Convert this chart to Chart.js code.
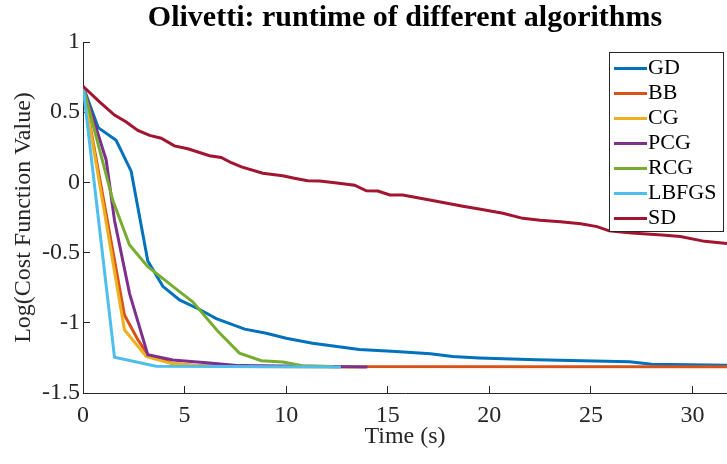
<!DOCTYPE html>
<html>
<head>
<meta charset="utf-8">
<script src="https://cdn.jsdelivr.net/npm/chart.js@4"></script>
<style>
  html, body { margin: 0; padding: 0; background: #fff; }
  canvas { display: block; }
</style>
</head>
<body>
<canvas id="runtimeChart" width="727" height="464"></canvas>
<script>
// Olivetti runtime data (time in seconds, log cost function value)
const gdTime = [0, 0.75, 1.63, 2.37, 3.19, 3.93, 4.75, 5.74, 6.56, 7.96, 9.02, 10.0, 11.3, 13.6, 15.4, 17.1, 18.2, 19.5, 22.3, 26.9, 28.0, 31.7];
const gdValue = [0.685, 0.39, 0.30, 0.08, -0.56, -0.74, -0.837, -0.905, -0.97, -1.045, -1.075, -1.11, -1.145, -1.19, -1.205, -1.22, -1.24, -1.25, -1.264, -1.277, -1.295, -1.303];

const bbTime = [0, 2.04, 2.7, 3.19, 4.4, 5.7, 7.5, 31.7];
const bbValue = [0.685, -0.944, -1.12, -1.228, -1.29, -1.305, -1.312, -1.313];

const cgTime = [0, 2.04, 3.11, 4.26, 5.5, 7.0, 13.9];
const cgValue = [0.685, -1.05, -1.24, -1.287, -1.305, -1.312, -1.315];

const pcgTime = [0, 1.14, 1.55, 2.29, 3.19, 4.42, 6.23, 7.7, 14.0];
const pcgValue = [0.685, 0.16, -0.27, -0.79, -1.228, -1.265, -1.287, -1.305, -1.314];

const rcgTime = [0, 1.47, 2.29, 3.19, 4.75, 5.4, 6.64, 7.7, 8.78, 9.84, 10.8, 12.3];
const rcgValue = [0.685, -0.13, -0.446, -0.6, -0.778, -0.85, -1.06, -1.216, -1.27, -1.28, -1.306, -1.312];

const lbfgsTime = [0, 1.55, 3.6, 12.7];
const lbfgsValue = [0.685, -1.245, -1.31, -1.315];

const sdTime = [0, 0.8, 1.55, 2.13, 2.7, 3.28, 3.85, 4.5, 5.16, 6.23, 6.8, 7.3, 7.8, 8.85, 9.83, 10.4, 11.06, 11.65, 12.5, 13.37, 13.95, 14.52, 15.1, 15.74, 17.07, 18.7, 19.5, 20.67, 21.65, 22.5, 23.5, 24.5, 25.3, 25.9, 27.0, 28.5, 29.4, 30.6, 31.7];
const sdValue = [0.685, 0.575, 0.48, 0.43, 0.37, 0.335, 0.315, 0.26, 0.24, 0.19, 0.178, 0.14, 0.11, 0.065, 0.047, 0.03, 0.012, 0.01, -0.005, -0.02, -0.06, -0.062, -0.09, -0.09, -0.126, -0.17, -0.19, -0.22, -0.256, -0.27, -0.28, -0.295, -0.315, -0.345, -0.36, -0.375, -0.385, -0.42, -0.435];

const seriesNames = ['GD', 'BB', 'CG', 'PCG', 'RCG', 'LBFGS', 'SD'];
const seriesTimes = [gdTime, bbTime, cgTime, pcgTime, rcgTime, lbfgsTime, sdTime];
const seriesValues = [gdValue, bbValue, cgValue, pcgValue, rcgValue, lbfgsValue, sdValue];
const seriesColors = ['#0072BD', '#D95319', '#EDB120', '#7E2F8E', '#77AC30', '#4DBEEE', '#A2142F'];

const xTicks = [0, 5, 10, 15, 20, 25, 30];
const xTickLabels = ['0', '5', '10', '15', '20', '25', '30'];
const yTicks = [-1.5, -1, -0.5, 0, 0.5, 1];
const yTickLabels = ['-1.5', '-1', '-0.5', '0', '0.5', '1'];

const serif = '"Liberation Serif", "Times New Roman", Times, serif';
const axisColor = '#262626';

// legend drawn inside the plot, MATLAB style
const boxLegend = {
  id: 'boxLegend',
  afterDatasetsDraw(chart) {
    const ctx = chart.ctx;
    const x = 609, y = 52, w = 114, h = 179, rowH = 25;
    ctx.save();
    ctx.fillStyle = '#fff';
    ctx.fillRect(x, y, w, h);
    ctx.strokeStyle = axisColor;
    ctx.lineWidth = 1;
    ctx.strokeRect(x + 0.5, y + 0.5, w, h);
    ctx.font = '22px ' + serif;
    ctx.textBaseline = 'middle';
    chart.data.datasets.forEach((ds, i) => {
      const cy = y + 16.5 + i * rowH;
      ctx.strokeStyle = ds.borderColor;
      ctx.lineWidth = 3;
      ctx.beginPath();
      ctx.moveTo(x + 5, cy);
      ctx.lineTo(x + 38, cy);
      ctx.stroke();
      ctx.fillStyle = '#000';
      ctx.fillText(ds.label, x + 39, cy);
    });
    ctx.restore();
  }
};

const datasets = seriesNames.map((name, i) => ({
  label: name,
  data: seriesTimes[i].map((t, j) => ({ x: t, y: seriesValues[i][j] })),
  borderColor: seriesColors[i],
  backgroundColor: seriesColors[i],
  borderWidth: 3,
  pointRadius: 0,
  tension: 0,
  fill: false,
  order: seriesNames.length - i
}));

new Chart(document.getElementById('runtimeChart'), {
  type: 'line',
  data: { datasets },
  plugins: [boxLegend],
  options: {
    responsive: false,
    animation: false,
    layout: { padding: 0 },
    plugins: {
      legend: { display: false },
      tooltip: { enabled: false },
      title: {
        display: true,
        text: 'Olivetti: runtime of different algorithms',
        color: '#000',
        fullSize: false,
        font: { family: serif, size: 30, weight: 'bold' },
        padding: { top: 0, bottom: 6 }
      }
    },
    scales: {
      x: {
        type: 'linear',
        min: 0,
        max: 31.7,
        afterBuildTicks: (scale) => { scale.ticks = xTicks.map(v => ({ value: v })); },
        afterFit: (scale) => { scale.height = 71; },
        grid: { drawOnChartArea: false, drawTicks: true, tickLength: -7, color: axisColor },
        border: { display: true, color: axisColor, width: 1 },
        ticks: {
          color: axisColor,
          padding: 15,
          maxRotation: 0,
          font: { family: serif, size: 24 },
          callback: (v) => xTickLabels[xTicks.indexOf(v)]
        },
        title: {
          display: true,
          text: 'Time (s)',
          color: axisColor,
          font: { family: serif, size: 24 },
          padding: { top: 0, bottom: 13 }
        }
      },
      y: {
        type: 'linear',
        min: -1.5,
        max: 1,
        afterBuildTicks: (scale) => { scale.ticks = yTicks.map(v => ({ value: v })); },
        afterFit: (scale) => { scale.width = 83; },
        grid: { drawOnChartArea: false, drawTicks: true, tickLength: -7, color: axisColor },
        border: { display: true, color: axisColor, width: 1 },
        ticks: {
          color: axisColor,
          padding: 10,
          font: { family: serif, size: 24 },
          callback: (v) => yTickLabels[yTicks.indexOf(v)]
        },
        title: {
          display: true,
          text: 'Log(Cost Function Value)',
          color: axisColor,
          font: { family: serif, size: 24 },
          padding: { top: 9, bottom: 0 }
        }
      }
    }
  }
});
</script>
</body>
</html>
